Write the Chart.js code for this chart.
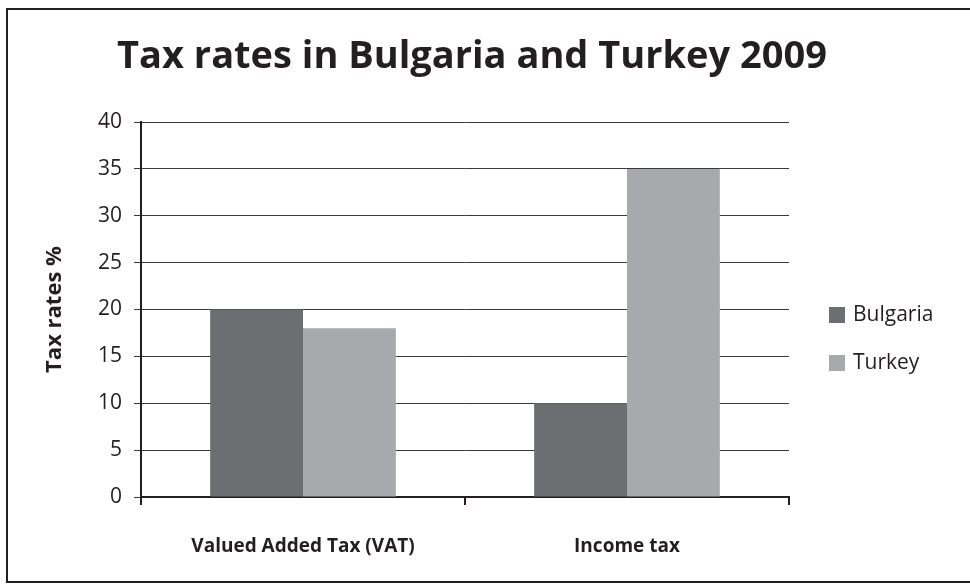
<!DOCTYPE html>
<html>
<head>
<meta charset="utf-8">
<script src="https://cdn.jsdelivr.net/npm/chart.js@4"></script>
<style>
    html, body { margin: 0; padding: 0; background: #fff; overflow: hidden; }
    #wrap { position: relative; width: 970px; height: 585px; overflow: hidden; }
    #frame { position: absolute; left: 6px; top: 8px; width: 980px; height: 575px; border: 2px solid #231f20; box-sizing: border-box; pointer-events: none; }
</style>
</head>
<body>
<div id="wrap">
    <canvas id="taxChart" width="970" height="585"></canvas>
    <div id="frame"></div>
</div>
<script>
// Données
const categories = ['Valued Added Tax (VAT)', 'Income tax'];
const bulgaria = [20, 10];
const turkey = [18, 35];
const seriesNames = ['Bulgaria', 'Turkey'];
const seriesColors = ['#6d6e71', '#a7a9ac'];
const yTicks = [0, 5, 10, 15, 20, 25, 30, 35, 40];
const chartTitle = 'Tax rates in Bulgaria and Turkey 2009';

const FONT = "'Open Sans', sans-serif";
const INK = '#231f20';

// Titre centré sur toute la figure
const topTitle = {
    id: 'topTitle',
    afterDraw(chart) {
        const ctx = chart.ctx;
        ctx.save();
        ctx.font = 'bold 38px ' + FONT;
        ctx.fillStyle = INK;
        ctx.textAlign = 'center';
        ctx.textBaseline = 'middle';
        ctx.fillText(chartTitle, 472, 57);
        ctx.restore();
    }
};

// Légende dessinée à droite
const sideLegend = {
    id: 'sideLegend',
    afterDraw(chart) {
        const ctx = chart.ctx;
        ctx.save();
        ctx.font = '21px ' + FONT;
        ctx.textBaseline = 'middle';
        chart.data.datasets.forEach((ds, i) => {
            const y = 315 + i * 48;
            ctx.fillStyle = ds.backgroundColor;
            ctx.fillRect(829, y - 8, 16, 16);
            ctx.fillStyle = INK;
            ctx.fillText(ds.label, 853, y);
        });
        ctx.restore();
    }
};

const ctx = document.getElementById('taxChart').getContext('2d');
new Chart(ctx, {
    type: 'bar',
    data: {
        labels: categories,
        datasets: [
            { label: seriesNames[0], data: bulgaria, backgroundColor: seriesColors[0] },
            { label: seriesNames[1], data: turkey, backgroundColor: seriesColors[1] }
        ]
    },
    options: {
        responsive: false,
        animation: false,
        layout: { padding: { left: 0, right: 181, top: 122, bottom: 0 } },
        datasets: { bar: { categoryPercentage: 0.573, barPercentage: 1.0 } },
        plugins: {
            legend: { display: false },
            tooltip: { enabled: false },
            title: { display: false }
        },
        scales: {
            x: {
                grid: { offset: true, drawOnChartArea: false, drawTicks: true, tickLength: 8, color: INK, lineWidth: 2 },
                border: { color: INK, width: 2 },
                ticks: { color: INK, padding: 30, font: { family: FONT, size: 19, weight: 'bold' } },
                afterFit(scale) { scale.height = 88; }
            },
            y: {
                min: 0,
                max: 40,
                afterBuildTicks(scale) { scale.ticks = yTicks.map(v => ({ value: v })); },
                grid: { color: '#3a3a3a', lineWidth: 1, tickLength: 7 },
                border: { color: INK, width: 2 },
                ticks: { color: INK, padding: 12, font: { family: FONT, size: 21 } },
                title: {
                    display: true,
                    text: 'Tax rates %',
                    color: INK,
                    font: { family: FONT, size: 22, weight: 'bold' },
                    padding: { top: 42 }
                },
                afterFit(scale) { scale.width = 141; }
            }
        }
    },
    plugins: [topTitle, sideLegend]
});
</script>
</body>
</html>
